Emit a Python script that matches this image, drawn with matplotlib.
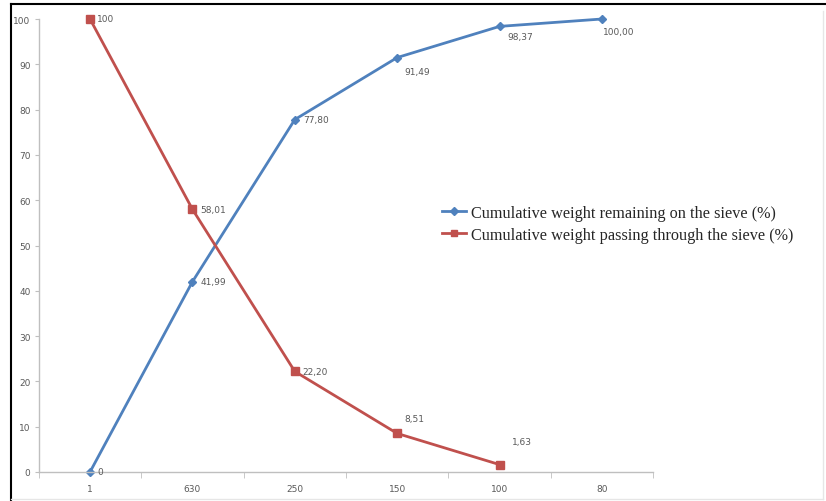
import matplotlib
matplotlib.use("Agg")
import matplotlib.pyplot as plt
from matplotlib.lines import Line2D

sieve_sizes = ["1", "630", "250", "150", "100", "80"]
retained = [0, 41.99, 77.80, 91.49, 98.37, 100.00]
passing = [100, 58.01, 22.20, 8.51, 1.63]

retained_labels = ["0", "41,99", "77,80", "91,49", "98,37", "100,00"]
passing_labels = ["100", "58,01", "22,20", "8,51", "1,63"]

# label offsets in pixels (dx, dy) from each marker
retained_offsets = [(7, 0), (8, 0), (8, 0), (7, -14), (8, -10), (1, -12)]
passing_offsets = [(7, 0), (8, 0), (8, 0), (7, 15), (12, 23)]

BLUE = "#4F81BD"
RED = "#C0504D"
GREY = "#595959"
LABEL_FONT = ["Liberation Sans Narrow", "DejaVu Sans Condensed", "DejaVu Sans"]

fig = plt.figure(figsize=(8.26, 5.02), dpi=100)
ax = fig.add_axes([38.8 / 826, 29 / 502, 614.4 / 826, 453 / 502])

x_ret = list(range(len(retained)))
x_pas = list(range(len(passing)))

ax.plot(x_ret, retained, color=BLUE, lw=2, marker="D", ms=4.5,
        label="Cumulative weight remaining on the sieve (%)")
ax.plot(x_pas, passing, color=RED, lw=2, marker="s", ms=6,
        label="Cumulative weight passing through the sieve (%)")

for x, y, text, (dx, dy) in zip(x_ret, retained, retained_labels, retained_offsets):
    ax.annotate(text, (x, y), xytext=(dx * 0.72, dy * 0.72), textcoords="offset points",
                ha="left", va="center", fontsize=6.5, color=GREY, family=LABEL_FONT)
for x, y, text, (dx, dy) in zip(x_pas, passing, passing_labels, passing_offsets):
    ax.annotate(text, (x, y), xytext=(dx * 0.72, dy * 0.72), textcoords="offset points",
                ha="left", va="center", fontsize=6.5, color=GREY, family=LABEL_FONT)

ax.set_xlim(-0.5, len(sieve_sizes) - 0.5)
ax.set_ylim(0, 100)
ax.set_yticks(range(0, 101, 10))
ax.set_xticks(range(len(sieve_sizes)))
ax.set_xticklabels(sieve_sizes)
ax.set_xticks([i + 0.5 for i in range(-1, len(sieve_sizes))], minor=True)
ax.tick_params(axis="x", which="major", length=0, pad=9)
ax.tick_params(axis="x", which="minor", length=4, color="#BFBFBF")
ax.tick_params(axis="y", length=3, color="#BFBFBF", pad=3)
for lab in ax.get_xticklabels() + ax.get_yticklabels():
    lab.set_fontsize(6.5)
    lab.set_color(GREY)
    lab.set_family(LABEL_FONT)

for side in ("top", "right"):
    ax.spines[side].set_visible(False)
for side in ("left", "bottom"):
    ax.spines[side].set_color("#BFBFBF")
    ax.spines[side].set_linewidth(1)
for line in ax.lines:
    line.set_clip_on(False)

leg = ax.legend(loc="center left", bbox_to_anchor=(442 / 826, 277 / 502),
                bbox_transform=fig.transFigure, frameon=False, borderpad=0,
                borderaxespad=0, prop={"family": "Liberation Serif", "size": 11.7},
                handlelength=1.5, handletextpad=0.3, labelspacing=0.38, markerscale=0.8)
for t in leg.get_texts():
    t.set_color("#262626")

# image frame
fig.add_artist(Line2D([11 / 826, 11 / 826], [0, 497 / 502], color="black", lw=1.5,
                      transform=fig.transFigure))
fig.add_artist(Line2D([11 / 826, 1], [497 / 502, 497 / 502], color="black", lw=1.5,
                      transform=fig.transFigure))
fig.add_artist(Line2D([823 / 826, 823 / 826], [2 / 502, 490 / 502], color="#E6E6E6", lw=1,
                      transform=fig.transFigure))
fig.add_artist(Line2D([11 / 826, 823 / 826], [2 / 502, 2 / 502], color="#E6E6E6", lw=1,
                      transform=fig.transFigure))

fig.savefig("out.png", dpi=100)
